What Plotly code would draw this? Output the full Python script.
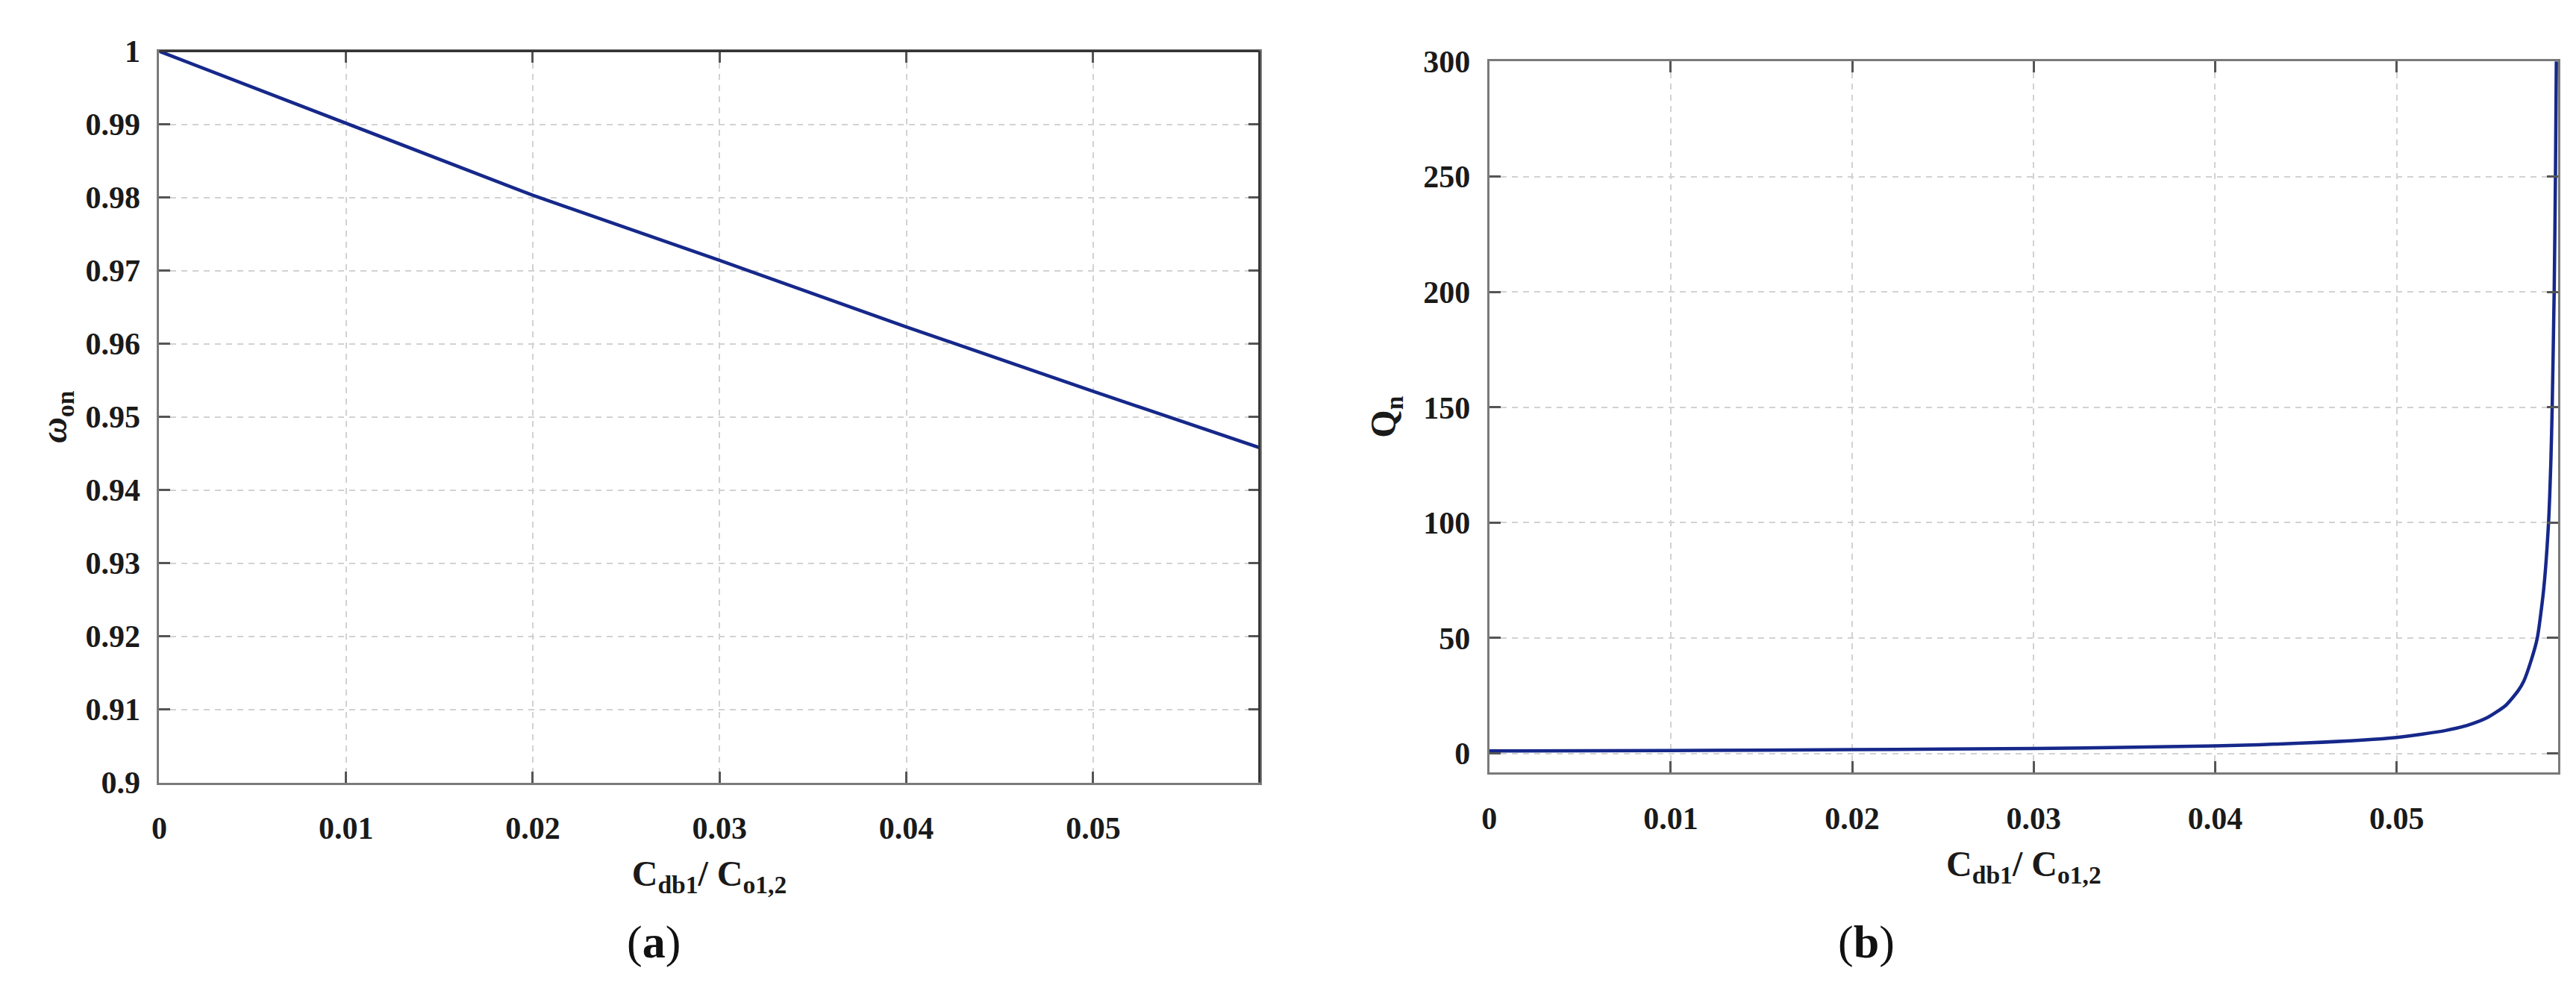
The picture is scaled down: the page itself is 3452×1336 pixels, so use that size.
import plotly.graph_objects as go

# ---------------- data ----------------
# panel (a): normalised frequency omega_on vs C_db1/C_o1,2
ratio_a = [0.0, 0.01, 0.02, 0.03, 0.04, 0.05, 0.0589]
omega_on = [1.0, 0.9902, 0.9803, 0.9714, 0.9623, 0.9535, 0.9458]

# panel (b): Q_n vs C_db1/C_o1,2
ratio_b = [0.0, 0.01, 0.02, 0.03, 0.04, 0.045, 0.05, 0.0527, 0.054, 0.055,
           0.056, 0.0567, 0.057, 0.0574, 0.05775, 0.0581, 0.05837, 0.0585,
           0.05857, 0.05868, 0.05875, 0.0588]
q_n = [1.05, 1.25, 1.6, 2.1, 3.2, 4.5, 6.9, 9.9, 12.4, 15.5,
       20.7, 27.2, 31.2, 40.0, 50.0, 71.0, 100.0, 127.0,
       150.0, 200.0, 250.0, 300.0]

x_tickvals = [0, 0.01, 0.02, 0.03, 0.04, 0.05]
x_ticktext = ["0", "0.01", "0.02", "0.03", "0.04", "0.05"]
ya_tickvals = [0.9, 0.91, 0.92, 0.93, 0.94, 0.95, 0.96, 0.97, 0.98, 0.99, 1.0]
ya_ticktext = ["0.9", "0.91", "0.92", "0.93", "0.94", "0.95", "0.96", "0.97", "0.98", "0.99", "1"]
yb_tickvals = [0, 50, 100, 150, 200, 250, 300]
yb_ticktext = ["0", "50", "100", "150", "200", "250", "300"]

x_title = "C<sub>db1</sub>/ C<sub>o1,2</sub>"
ya_title = "<i>ω</i><sub>on</sub>"
yb_title = "Q<sub>n</sub>"
panel_labels = ["(<b>a</b>)", "(<b>b</b>)"]

# ---------------- styling ----------------
W, H = 3452, 1336
LINE_COLOR = "#16288a"
SERIF = "Liberation Serif, Times New Roman, serif"
tick_font = dict(family=SERIF, size=42, color="#1a1a1a", weight="bold")
title_font = dict(family=SERIF, size=48, color="#1a1a1a", weight="bold")

fig = go.Figure()
fig.add_trace(go.Scatter(x=ratio_a, y=omega_on, mode="lines",
                         line=dict(color=LINE_COLOR, width=4.5),
                         xaxis="x", yaxis="y", showlegend=False))
fig.add_trace(go.Scatter(x=ratio_b, y=q_n, mode="lines",
                         line=dict(color=LINE_COLOR, width=4.5, shape="spline", smoothing=0.6),
                         xaxis="x2", yaxis="y2", showlegend=False, cliponaxis=True))

common = dict(
    showline=True, mirror="ticks", linecolor="#7a7a7a", linewidth=3,
    ticks="inside", ticklen=15, tickwidth=2.5, tickcolor="#555555",
    showgrid=True, gridcolor="#d2d2d2", gridwidth=2, griddash="8px,7px",
    zeroline=False, tickfont=tick_font,
)

# domains (paper fractions)
xa_dom = [195 / W, 1674 / W]
ya_dom = [(H - 1055) / H, (H - 40) / H]
xb_dom = [1983 / W, 3420 / W]
yb_dom = [(H - 1041) / H, (H - 54) / H]

fig.update_layout(
    width=W, height=H, autosize=False,
    margin=dict(l=0, r=0, t=0, b=0),
    paper_bgcolor="white", plot_bgcolor="white",
    xaxis=dict(common, domain=xa_dom, anchor="y", range=[0, 0.0589],
               tickvals=x_tickvals, ticktext=x_ticktext, ticklabelstandoff=22,
               title=dict(text=x_title, font=title_font, standoff=22)),
    yaxis=dict(common, domain=ya_dom, anchor="x", range=[0.9, 1.0],
               tickvals=ya_tickvals, ticktext=ya_ticktext, ticklabelstandoff=14,
               title=dict(text=ya_title, font=title_font, standoff=10)),
    xaxis2=dict(common, domain=xb_dom, anchor="y2", range=[0, 0.0589],
                tickvals=x_tickvals, ticktext=x_ticktext, ticklabelstandoff=22,
                title=dict(text=x_title, font=title_font, standoff=22)),
    yaxis2=dict(common, domain=yb_dom, anchor="x2", range=[-8.3, 300],
                tickvals=yb_tickvals, ticktext=yb_ticktext, ticklabelstandoff=14,
                title=dict(text=yb_title, font=title_font, standoff=22)),
)

# darker top / right frame on panel (a)
for (x0, y0, x1, y1) in [(0, 1, 1, 1), (1, 0, 1, 1)]:
    fig.add_shape(type="line", xref="x domain", yref="y domain",
                  x0=x0, y0=y0, x1=x1, y1=y1,
                  line=dict(color="#333333", width=3), layer="above")

# panel labels
for txt, xc in zip(panel_labels, [860 / W, 2490 / W]):
    fig.add_annotation(text=txt, x=xc, y=(H - 1276) / H, xref="paper", yref="paper",
                       showarrow=False, xanchor="center", yanchor="middle",
                       font=dict(family=SERIF, size=62, color="#111111"))

fig.write_html("out.html")
